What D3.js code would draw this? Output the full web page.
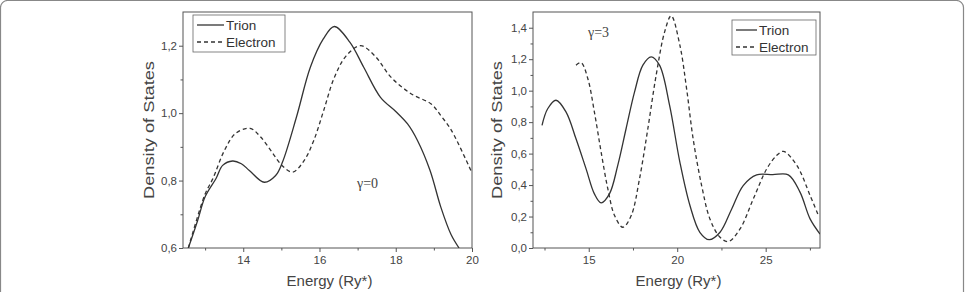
<!DOCTYPE html>
<html>
<head>
<meta charset="utf-8">
<script src="https://cdn.jsdelivr.net/npm/d3@7"></script>
<style>
  body { margin: 0; background: #fff; }
  svg { display: block; font-family: "Liberation Sans", Arial, sans-serif; }
  .axis path, .axis line { stroke: #555; }
  .axis text { fill: #444; font-size: 11.5px; }
  .axisLabel { fill: #444; font-size: 15px; text-anchor: middle; }
</style>
</head>
<body>
<div id="chart"></div>
<script>
/* data: [energy, density] */
const leftTrion = [[12.56,0.6],[12.8,0.68],[13.0,0.752],[13.29,0.807],[13.46,0.845],[13.72,0.858],[13.95,0.85],
  [14.16,0.83],[14.55,0.795],[14.85,0.815],[15.03,0.855],[15.4,0.99],[15.76,1.136],[16.1,1.22],[16.39,1.257],
  [16.8,1.21],[17.16,1.136],[17.6,1.047],[18.0,1.005],[18.31,0.968],[18.57,0.919],[18.9,0.83],[19.18,0.722],
  [19.45,0.64],[19.66,0.6]];
const leftElectron = [[12.56,0.6],[13.0,0.76],[13.2,0.805],[13.51,0.89],[13.8,0.94],[14.18,0.955],[14.45,0.93],
  [14.75,0.885],[15.03,0.843],[15.3,0.825],[15.6,0.86],[15.85,0.919],[16.11,1.008],[16.39,1.106],[16.7,1.17],
  [17.08,1.2],[17.45,1.17],[17.88,1.106],[18.41,1.057],[18.93,1.027],[19.2,0.99],[19.46,0.949],[19.99,0.825]];
const rightTrion = [[12.36,0.78],[12.68,0.885],[13.15,0.939],[13.72,0.864],[14.28,0.694],[14.85,0.503],
  [15.32,0.344],[15.7,0.287],[16.17,0.344],[16.64,0.525],[17.11,0.758],[17.59,0.992],[18.06,1.162],[18.53,1.215],
  [19.0,1.162],[19.57,0.907],[20.15,0.546],[20.72,0.27],[21.28,0.1],[21.81,0.053],[22.42,0.1],[23.08,0.248],
  [23.73,0.397],[24.49,0.465],[25.4,0.466],[26.28,0.465],[26.94,0.355],[27.51,0.185],[28.07,0.089]];
const rightElectron = [[14.28,1.162],[14.57,1.178],[14.95,1.076],[15.32,0.864],[15.7,0.61],[16.08,0.376],
  [16.46,0.206],[16.93,0.132],[17.4,0.206],[17.87,0.44],[18.34,0.758],[18.81,1.098],[19.29,1.374],[19.66,1.476],
  [20.15,1.289],[20.53,1.013],[20.9,0.694],[21.38,0.397],[21.85,0.185],[22.42,0.068],[22.89,0.041],[23.55,0.121],
  [24.3,0.312],[25.06,0.503],[25.62,0.588],[26.0,0.614],[26.76,0.525],[27.51,0.334],[27.98,0.206]];

const leftXTicks = [14, 16, 18, 20];
const leftYTicks = [0.6, 0.8, 1.0, 1.2];
const rightXTicks = [15, 20, 25];
const rightYTicks = [0, 0.2, 0.4, 0.6, 0.8, 1.0, 1.2, 1.4];
const seriesNames = ["Trion", "Electron"];

const width = 965, height = 292;
const svg = d3.select("#chart").append("svg")
  .attr("width", width).attr("height", height);

// grey rounded frame round the figure
svg.append("rect")
  .attr("x", 0.5).attr("y", 0.5).attr("width", width - 2).attr("height", height + 20)
  .attr("rx", 7).attr("fill", "none").attr("stroke", "#888").attr("stroke-width", 1.2);

const comma = d => d3.format(".1f")(d).replace(".", ",");

function panel(opt) {
  const x = d3.scaleLinear().domain(opt.xDomain).range([opt.x0, opt.x1]);
  const y = d3.scaleLinear().domain(opt.yDomain).range([opt.y1, opt.y0]);
  const g = svg.append("g");

  const clipId = "clip" + opt.id;
  g.append("clipPath").attr("id", clipId).append("rect")
    .attr("x", opt.x0).attr("y", opt.y0).attr("width", opt.x1 - opt.x0).attr("height", opt.y1 - opt.y0);

  // minor ticks
  g.append("g").attr("class", "axis")
    .attr("transform", `translate(0,${opt.y1})`)
    .call(d3.axisBottom(x).tickValues(opt.xMinor).tickSize(2.5).tickFormat(""))
    .call(a => a.select(".domain").remove());
  g.append("g").attr("class", "axis")
    .attr("transform", `translate(${opt.x0},0)`)
    .call(d3.axisLeft(y).tickValues(opt.yMinor).tickSize(2.5).tickFormat(""))
    .call(a => a.select(".domain").remove());

  g.append("g").attr("class", "axis")
    .attr("transform", `translate(0,${opt.y1})`)
    .call(d3.axisBottom(x).tickValues(opt.xTicks).tickSize(4).tickPadding(4).tickFormat(d3.format("d")))
    .call(a => a.select(".domain").remove());
  g.append("g").attr("class", "axis")
    .attr("transform", `translate(${opt.x0},0)`)
    .call(d3.axisLeft(y).tickValues(opt.yTicks).tickSize(4).tickPadding(2).tickFormat(comma))
    .call(a => a.select(".domain").remove());

  // box frame
  g.append("rect")
    .attr("x", opt.x0).attr("y", opt.y0).attr("width", opt.x1 - opt.x0).attr("height", opt.y1 - opt.y0)
    .attr("fill", "none").attr("stroke", "#555").attr("stroke-width", 1);

  const line = d3.line().x(d => x(d[0])).y(d => y(d[1])).curve(d3.curveCatmullRom);
  const lines = g.append("g").attr("clip-path", `url(#${clipId})`);
  lines.append("path").datum(opt.trion).attr("d", line)
    .attr("fill", "none").attr("stroke", "#333").attr("stroke-width", 1.3);
  lines.append("path").datum(opt.electron).attr("d", line)
    .attr("fill", "none").attr("stroke", "#333").attr("stroke-width", 1.3).attr("stroke-dasharray", "4,3");

  // axis labels
  g.append("text").attr("class", "axisLabel")
    .attr("x", (opt.x0 + opt.x1) / 2 + 2).attr("y", 286).text("Energy (Ry*)");
  g.append("text").attr("class", "axisLabel")
    .attr("transform", "rotate(-90)")
    .attr("x", -(opt.y0 + opt.y1) / 2).attr("y", opt.labelX)
    .attr("textLength", 138).attr("lengthAdjust", "spacingAndGlyphs")
    .text("Density of States");

  // gamma note
  g.append("text").attr("x", opt.gamma[0]).attr("y", opt.gamma[1])
    .attr("font-family", "'Liberation Serif', 'Times New Roman', serif").attr("font-size", 14)
    .attr("fill", "#444").text(opt.gamma[2]);

  // legend
  const L = opt.legend;
  g.append("rect").attr("x", L.x).attr("y", L.y).attr("width", L.w).attr("height", L.h)
    .attr("fill", "#fff").attr("stroke", "#666").attr("stroke-width", 0.8);
  seriesNames.forEach((name, i) => {
    const ly = L.y + 10 + i * 17;
    g.append("line").attr("x1", L.x + 4).attr("x2", L.x + 4 + L.len).attr("y1", ly).attr("y2", ly)
      .attr("stroke", "#333").attr("stroke-width", 1.3)
      .attr("stroke-dasharray", i ? "4,3" : null);
    g.append("text").attr("x", L.x + 6 + L.len).attr("y", ly + 5)
      .attr("font-size", 13.5).attr("fill", "#333").text(name);
  });
}

panel({
  id: "L", x0: 183, x1: 472, y0: 12, y1: 248,
  xDomain: [12.42, 20], yDomain: [0.6, 1.3],
  xTicks: leftXTicks, xMinor: [13, 15, 17, 19],
  yTicks: leftYTicks, yMinor: [0.7, 0.9, 1.1],
  trion: leftTrion, electron: leftElectron,
  labelX: 154, gamma: [357, 188, "γ=0"],
  legend: { x: 193, y: 15, w: 92, h: 37, len: 27 }
});

panel({
  id: "R", x0: 533, x1: 820, y0: 12, y1: 248,
  xDomain: [11.85, 28.07], yDomain: [0, 1.5],
  xTicks: rightXTicks, xMinor: [12.5, 17.5, 22.5, 27.5],
  yTicks: rightYTicks, yMinor: [0.1, 0.3, 0.5, 0.7, 0.9, 1.1, 1.3],
  trion: rightTrion, electron: rightElectron,
  labelX: 502, gamma: [588, 37, "γ=3"],
  legend: { x: 732, y: 20, w: 84, h: 35, len: 21 }
});
</script>
</body>
</html>
